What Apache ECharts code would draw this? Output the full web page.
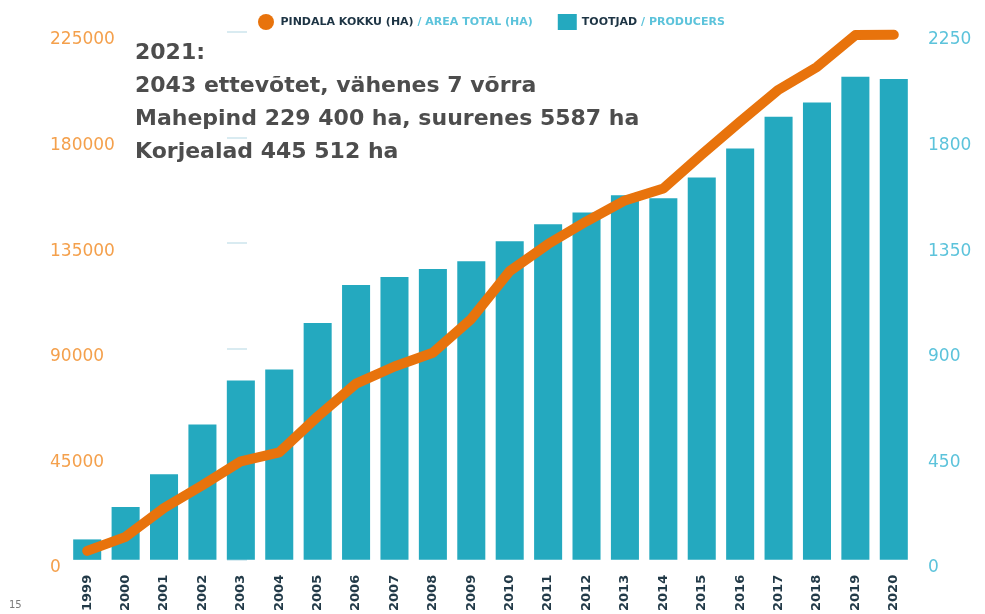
<!DOCTYPE html>
<html>
<head>
<meta charset="utf-8">
<script src="https://cdn.jsdelivr.net/npm/echarts@6/dist/echarts.min.js"></script>
<style>
  html, body { margin: 0; padding: 0; background: #fff; }
  #chart { width: 985px; height: 614px; }
</style>
</head>
<body>
<div id="chart"></div>
<script>
// aastad
const years = ["1999", "2000", "2001", "2002", "2003", "2004", "2005", "2006", "2007", "2008", "2009",
  "2010", "2011", "2012", "2013", "2014", "2015", "2016", "2017", "2018", "2019", "2020"]

// pindala kokku (ha)
const areaTotal = [3800, 9800, 22100, 31800, 42000, 45800, 61100, 75100, 82400, 88300, 102700,
  123100, 134600, 144300, 153200, 158300, 172800, 186800, 200400, 210100, 223700, 223800]

// tootjad
const producers = [87, 225, 365, 577, 764, 811, 1010, 1172, 1206, 1240, 1273,
  1358, 1430, 1481, 1554, 1541, 1630, 1753, 1889, 1949, 2059, 2050]

const areaMax = 225000
const areaStep = 45000
const prodMax = 2250
const prodStep = 450

const noteLines = [
  "2021:",
  "2043 ettevõtet, vähenes 7 võrra",
  "Mahepind 229 400 ha, suurenes 5587 ha",
  "Korjealad 445 512 ha"
]

const chart = echarts.init(document.getElementById("chart"))

// sildid veidi allapoole nagu originaalis
const shiftedLabel = (color) => ({
  align: "left",
  fontSize: 17,
  color: color,
  formatter: (v) => "{v|" + v + "}",
  rich: {
    v: { fontSize: 17, color: color, padding: [16, 0, 0, 0] }
  }
})

const option = {
  animation: false,
  textStyle: { fontFamily: "DejaVu Sans" },
  legend: {
    top: 9,
    left: 253,
    itemGap: 25,
    itemWidth: 19,
    itemHeight: 16,
    data: [
      { name: "area", icon: "circle" },
      { name: "prod", icon: "rect" }
    ],
    formatter: (name) => name === "area"
      ? "{a|PINDALA KOKKU (HA)}{b| / AREA TOTAL (HA)}"
      : "{a|TOOTJAD}{b| / PRODUCERS}",
    textStyle: {
      rich: {
        a: { fontSize: 11, fontWeight: "bold", color: "#1d3444", fontFamily: "DejaVu Sans" },
        b: { fontSize: 11, fontWeight: "bold", color: "#5cc3db", fontFamily: "DejaVu Sans" }
      }
    }
  },
  grid: {
    left: 68,
    right: 72,
    top: 32,
    bottom: 51
  },
  xAxis: {
    type: "category",
    data: years,
    axisLine: { show: false },
    axisTick: { show: false },
    axisLabel: {
      rotate: 90,
      margin: 15,
      fontSize: 13,
      fontWeight: "bold",
      color: "#223a48"
    }
  },
  yAxis: [
    {
      type: "value",
      position: "left",
      min: 0,
      max: areaMax,
      interval: areaStep,
      splitLine: { show: false },
      axisLine: { show: false },
      axisTick: { show: false },
      axisLabel: Object.assign({ margin: 18 }, shiftedLabel("#f4a04c"))
    },
    {
      type: "value",
      position: "right",
      min: 0,
      max: prodMax,
      interval: prodStep,
      splitLine: { show: false },
      axisLine: { show: false },
      axisTick: { show: false },
      axisLabel: Object.assign({ margin: 15 }, shiftedLabel("#5cc3db"))
    },
    {
      // heledad kriipsud graafiku sees
      type: "value",
      position: "left",
      offset: -179,
      min: 0,
      max: areaMax,
      interval: areaStep,
      splitLine: { show: false },
      axisLine: { show: false },
      axisLabel: { show: false },
      axisTick: { show: true, length: 20, lineStyle: { color: "#d9ebf1", width: 2 } }
    }
  ],
  series: [
    {
      name: "prod",
      type: "bar",
      yAxisIndex: 1,
      data: producers,
      barCategoryGap: "27%",
      itemStyle: { color: "#24a9bf" },
      z: 2
    },
    {
      name: "area",
      type: "line",
      yAxisIndex: 0,
      data: areaTotal,
      showSymbol: false,
      symbol: "none",
      itemStyle: { color: "#e8730c" },
      lineStyle: { color: "#e8730c", width: 10, cap: "round", join: "round" },
      z: 3
    }
  ],
  graphic: [
    {
      type: "text",
      left: 135,
      top: 37,
      z: 10,
      style: {
        text: noteLines.join("\n"),
        font: "bold 22px 'DejaVu Sans'",
        lineHeight: 33,
        fill: "#4d4d4d"
      }
    },
    {
      type: "text",
      left: 9,
      top: 600,
      style: {
        text: "15",
        font: "10px 'DejaVu Sans'",
        fill: "#7a7a7a"
      }
    }
  ]
}

chart.setOption(option)

window.addEventListener("resize", () => {
  chart.resize()
})
</script>
</body>
</html>
